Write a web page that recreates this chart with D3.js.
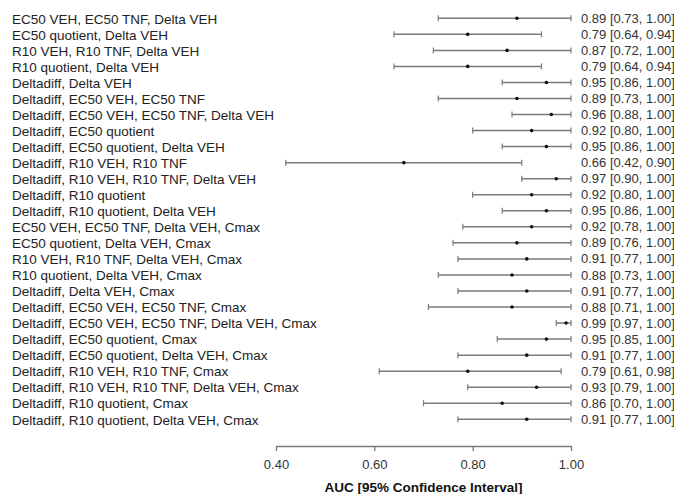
<!DOCTYPE html>
<html>
<head>
<meta charset="utf-8">
<script src="https://cdn.jsdelivr.net/npm/d3@7"></script>
<style>
  body { margin: 0; background: #fff; }
  text { font-family: "Liberation Sans", Arial, sans-serif; }
</style>
</head>
<body>
<div id="forest"></div>
<script>
// model labels, top to bottom
var labels = [
  "EC50 VEH, EC50 TNF, Delta VEH",
  "EC50 quotient, Delta VEH",
  "R10 VEH, R10 TNF, Delta VEH",
  "R10 quotient, Delta VEH",
  "Deltadiff, Delta VEH",
  "Deltadiff, EC50 VEH, EC50 TNF",
  "Deltadiff, EC50 VEH, EC50 TNF, Delta VEH",
  "Deltadiff, EC50 quotient",
  "Deltadiff, EC50 quotient, Delta VEH",
  "Deltadiff, R10 VEH, R10 TNF",
  "Deltadiff, R10 VEH, R10 TNF, Delta VEH",
  "Deltadiff, R10 quotient",
  "Deltadiff, R10 quotient, Delta VEH",
  "EC50 VEH, EC50 TNF, Delta VEH, Cmax",
  "EC50 quotient, Delta VEH, Cmax",
  "R10 VEH, R10 TNF, Delta VEH, Cmax",
  "R10 quotient, Delta VEH, Cmax",
  "Deltadiff, Delta VEH, Cmax",
  "Deltadiff, EC50 VEH, EC50 TNF, Cmax",
  "Deltadiff, EC50 VEH, EC50 TNF, Delta VEH, Cmax",
  "Deltadiff, EC50 quotient, Cmax",
  "Deltadiff, EC50 quotient, Delta VEH, Cmax",
  "Deltadiff, R10 VEH, R10 TNF, Cmax",
  "Deltadiff, R10 VEH, R10 TNF, Delta VEH, Cmax",
  "Deltadiff, R10 quotient, Cmax",
  "Deltadiff, R10 quotient, Delta VEH, Cmax"
];
var auc   = [0.89, 0.79, 0.87, 0.79, 0.95, 0.89, 0.96, 0.92, 0.95, 0.66, 0.97, 0.92, 0.95,
             0.92, 0.89, 0.91, 0.88, 0.91, 0.88, 0.99, 0.95, 0.91, 0.79, 0.93, 0.86, 0.91];
var lower = [0.73, 0.64, 0.72, 0.64, 0.86, 0.73, 0.88, 0.80, 0.86, 0.42, 0.90, 0.80, 0.86,
             0.78, 0.76, 0.77, 0.73, 0.77, 0.71, 0.97, 0.85, 0.77, 0.61, 0.79, 0.70, 0.77];
var upper = [1.00, 0.94, 1.00, 0.94, 1.00, 1.00, 1.00, 1.00, 1.00, 0.90, 1.00, 1.00, 1.00,
             1.00, 1.00, 1.00, 1.00, 1.00, 1.00, 1.00, 1.00, 1.00, 0.98, 1.00, 1.00, 1.00];
var xTicks = [0.40, 0.60, 0.80, 1.00];

var width = 674, height = 494;

var data = labels.map(function(d, i) {
  return {label: d, auc: auc[i], lo: lower[i], hi: upper[i]};
});

var svg = d3.select("#forest")
  .append("svg")
    .attr("width", width)
    .attr("height", height);

var x = d3.scaleLinear()
  .domain([0.40, 1.00])
  .range([276, 571]);

var y = d3.scalePoint()
  .domain(labels)
  .range([18.3, 419.3]);

// labels on the left
svg.append("g").selectAll("text")
  .data(data)
  .enter().append("text")
    .attr("x", 12)
    .attr("y", function(d) { return y(d.label) + 0.5; })
    .attr("dy", "0.35em")
    .style("font-size", "13.5px")
    .style("fill", "#222")
    .text(function(d) { return d.label; });

// confidence intervals
var rows = svg.append("g").selectAll("g")
  .data(data)
  .enter().append("g")
    .attr("transform", function(d) { return "translate(0," + y(d.label) + ")"; });

rows.append("line")
  .attr("x1", function(d) { return x(d.lo); })
  .attr("x2", function(d) { return x(d.hi); })
  .attr("stroke", "#7a7a7a")
  .attr("stroke-width", 1.5);

rows.append("line")
  .attr("x1", function(d) { return x(d.lo); })
  .attr("x2", function(d) { return x(d.lo); })
  .attr("y1", -3).attr("y2", 3)
  .attr("stroke", "#7a7a7a")
  .attr("stroke-width", 1.2);

rows.append("line")
  .attr("x1", function(d) { return x(d.hi); })
  .attr("x2", function(d) { return x(d.hi); })
  .attr("y1", -3).attr("y2", 3)
  .attr("stroke", "#7a7a7a")
  .attr("stroke-width", 1.2);

rows.append("circle")
  .attr("cx", function(d) { return x(d.auc); })
  .attr("r", 1.8)
  .attr("fill", "#111");

// estimate text on the right
rows.append("text")
  .attr("x", 581)
  .attr("dy", "0.35em")
  .style("font-size", "13px")
  .style("fill", "#333")
  .text(function(d) {
    return d.auc.toFixed(2) + " [" + d.lo.toFixed(2) + ", " + d.hi.toFixed(2) + "]";
  });

// x axis
var axis = svg.append("g")
  .attr("transform", "translate(0,446)")
  .call(d3.axisBottom(x)
    .tickValues(xTicks)
    .tickFormat(d3.format(".2f"))
    .tickSize(5)
    .tickSizeOuter(0));

axis.select(".domain").attr("stroke", "#7a7a7a").attr("stroke-width", 1.3);
axis.selectAll(".tick line").attr("stroke", "#7a7a7a").attr("stroke-width", 1.3);
axis.selectAll(".tick text")
  .attr("y", 14)
  .style("font-size", "13px")
  .style("font-family", "'Liberation Sans', Arial, sans-serif")
  .style("fill", "#333");

// axis title
svg.append("text")
  .attr("x", x(0.70))
  .attr("y", 487)
  .attr("dy", "0.35em")
  .style("text-anchor", "middle")
  .style("font-size", "13.5px")
  .style("font-weight", "bold")
  .style("fill", "#111")
  .text("AUC [95% Confidence Interval]");
</script>
</body>
</html>
